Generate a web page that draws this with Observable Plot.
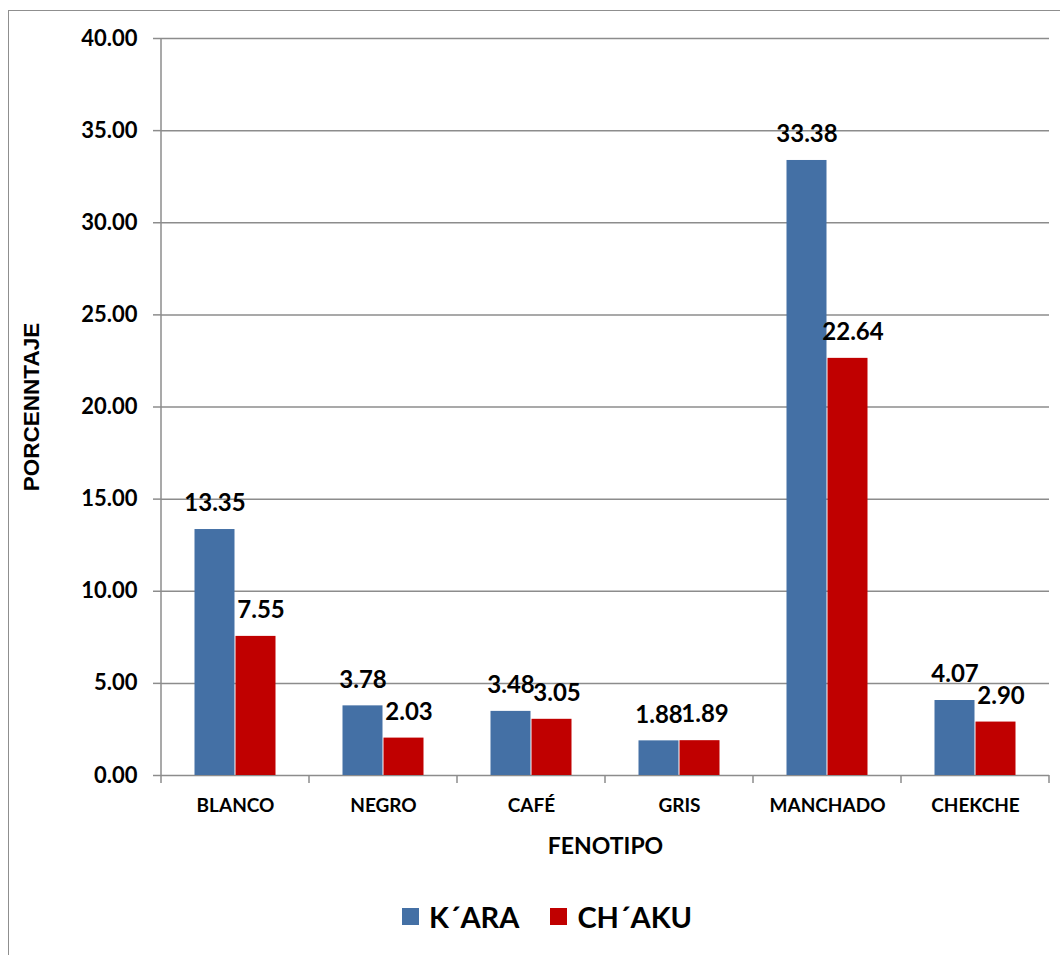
<!DOCTYPE html>
<html>
<head>
<meta charset="utf-8">
<script src="https://cdn.jsdelivr.net/npm/d3@7"></script>
<script src="https://cdn.jsdelivr.net/npm/@observablehq/plot@0.6"></script>
<style>
  html, body { margin: 0; padding: 0; background: #fff; }
  #wrap { position: relative; width: 1060px; height: 955px; overflow: hidden; font-family: Lato, "Open Sans", sans-serif; }
  #frame { position: absolute; left: 8px; top: 10px; width: 1200px; height: 1200px; border-left: 1.5px solid #8f8f8f; border-top: 1.5px solid #8f8f8f; }
  #chart { position: absolute; left: 0; top: 0; }
  #legend { position: absolute; left: 402px; top: 898px; display: flex; align-items: center; height: 36px; font-family: Lato, sans-serif; font-weight: 700; font-size: 29px; color: #000; }
  #legend .item { display: flex; align-items: center; margin-right: 31px; }
  #legend .sw { width: 17px; height: 17px; margin-right: 10px; }
  g[aria-label="fx-axis label"] text { font-size: 23px; font-family: Lato, sans-serif; font-weight: 700; }
  g[aria-label="y-axis label"] text { font-size: 22.5px; font-family: "Liberation Sans", Arial, sans-serif; font-weight: 700; }
</style>
</head>
<body>
<div id="wrap">
  <div id="frame"></div>
  <div id="chart"></div>
  <div id="legend"></div>
</div>
<script>
const categories = ["BLANCO", "NEGRO", "CAFÉ", "GRIS", "MANCHADO", "CHEKCHE"];
const series = ["K´ARA", "CH´AKU"];
const karaValues = [13.35, 3.78, 3.48, 1.88, 33.38, 4.07];
const chakuValues = [7.55, 2.03, 3.05, 1.89, 22.64, 2.90];
const yTicks = [0, 5, 10, 15, 20, 25, 30, 35, 40];
const colors = ["#4470a5", "#c00000"];

const data = categories.flatMap((c, i) => [
  {cat: c, s: series[0], v: karaValues[i]},
  {cat: c, s: series[1], v: chakuValues[i]}
]);
const karaData = data.filter(d => d.s === series[0]);
const chakuData = data.filter(d => d.s === series[1]);

const chart = Plot.plot({
  width: 1060,
  height: 870,
  marginLeft: 161,
  marginRight: 11,
  marginTop: 38,
  marginBottom: 95,
  style: {fontFamily: "Lato, sans-serif", color: "#000", background: "transparent"},
  fx: {domain: categories, padding: 0},
  x: {domain: series, paddingInner: 0, paddingOuter: 0.783, axis: null},
  y: {domain: [0, 40]},
  color: {domain: series, range: colors},
  marks: [
    Plot.gridY(yTicks, {stroke: "#8c8c8c", strokeOpacity: 1, strokeWidth: 1.5}),
    Plot.axisY(yTicks, {
      tickSize: 8, tickPadding: 16, stroke: "#8c8c8c", strokeWidth: 1.5,
      tickFormat: d => d.toFixed(2), fontSize: 22, fontWeight: "bold",
      label: "PORCENNTAJE", labelArrow: false, labelAnchor: "center", labelOffset: 138
    }),
    Plot.axisFx({
      anchor: "bottom", tickSize: 0, tickPadding: 23, fontSize: 19, fontWeight: "bold",
      label: "FENOTIPO", labelArrow: false, labelAnchor: "center", labelOffset: 78
    }),
    Plot.barY(data, {fx: "cat", x: "s", y: "v", fill: "s", insetLeft: 0.5, insetRight: 0.5}),
    Plot.text(karaData, {
      fx: "cat", x: "s", y: "v", text: d => d.v.toFixed(2), dy: -26,
      fontSize: 24, fontWeight: "bold", fill: "#000"
    }),
    Plot.text(chakuData, {
      fx: "cat", x: "s", y: "v", text: d => d.v.toFixed(2), dy: -26, dx: 5,
      fontSize: 24, fontWeight: "bold", fill: "#000"
    })
  ]
});

// Category boundary ticks and y axis line, placed through the chart's own scales
const fxs = chart.scale("fx");
const ys = chart.scale("y");
const band = d3.scaleBand().domain(fxs.domain).range(fxs.range).padding(0);
const y0 = ys.range[0], y1 = ys.range[1];
const g = d3.select(chart).append("g").attr("stroke", "#8c8c8c").attr("stroke-width", 1.5);
g.append("line").attr("x1", band.range()[0]).attr("x2", band.range()[0]).attr("y1", Math.min(y0, y1)).attr("y2", Math.max(y0, y1) + 8);
band.domain().forEach(c => {
  const xr = band(c) + band.step();
  g.append("line").attr("x1", xr).attr("x2", xr).attr("y1", Math.max(y0, y1)).attr("y2", Math.max(y0, y1) + 8);
});

document.getElementById("chart").appendChild(chart);

const legend = d3.select("#legend");
series.forEach((s, i) => {
  const it = legend.append("div").attr("class", "item");
  it.append("div").attr("class", "sw").style("background", colors[i]);
  it.append("span").text(s);
});
</script>
</body>
</html>
